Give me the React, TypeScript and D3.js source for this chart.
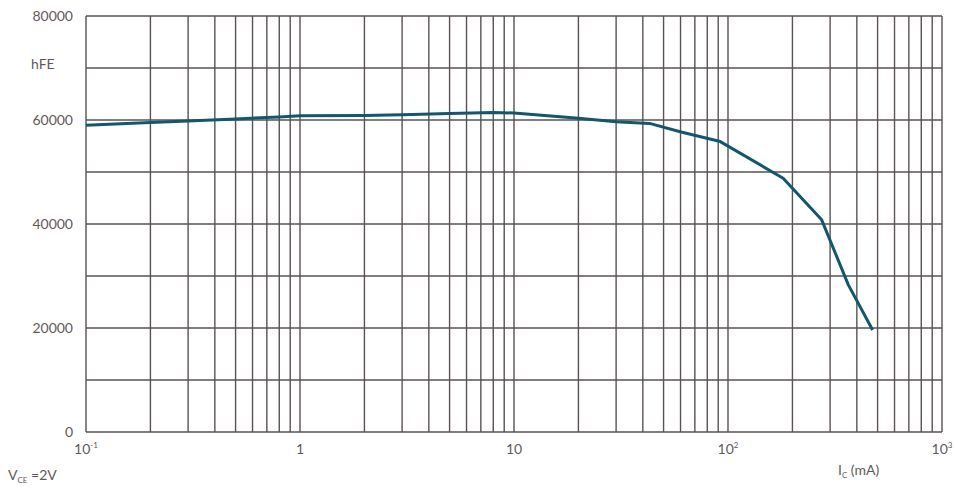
import { useEffect, useRef } from "react";
import * as d3 from "d3";

// hFE vs Ic, VCE = 2V. Log x (mA), linear y.
const W = 955;
const H = 487;
const MARGIN = { top: 16, right: 13, bottom: 55, left: 86 };

const icValues = [0.1, 0.2, 0.3, 0.5, 0.8, 1, 2, 3, 5, 8, 10, 20, 30, 43, 61, 92, 181, 274, 365, 474];
const hfeValues = [59000, 59500, 59800, 60200, 60600, 60800, 60850, 61000, 61250, 61450, 61350, 60350, 59650, 59350, 57650, 55850, 48800, 40800, 28300, 19600];

const yTicks = [0, 20000, 40000, 60000, 80000];
const xDecades = [0.1, 1, 10, 100, 1000];
const xTickLabels = [
  { base: "10", sup: "-1" },
  { base: "1", sup: "" },
  { base: "10", sup: "" },
  { base: "10", sup: "2" },
  { base: "10", sup: "3" },
];

const TEXT = "#5f5a5a";
const GRID = "#5a5252";
const CURVE = "#0f5870";
const FONT = "Lato, 'Open Sans', sans-serif";

export default function App() {
  const svgRef = useRef<SVGSVGElement>(null);

  useEffect(() => {
    const svg = d3.select(svgRef.current);
    svg.selectAll("*").remove();

    const innerW = W - MARGIN.left - MARGIN.right;
    const innerH = H - MARGIN.top - MARGIN.bottom;

    const x = d3.scaleLog().domain([0.1, 1000]).range([0, innerW]);
    const y = d3.scaleLinear().domain([0, 80000]).range([innerH, 0]);

    const g = svg
      .append("g")
      .attr("transform", `translate(${MARGIN.left},${MARGIN.top})`);

    // Rejilla vertical: 1..9 por década.
    const vLines: number[] = [];
    for (const d of xDecades.slice(0, -1)) {
      for (let k = 1; k < 10; k++) vLines.push(d * k);
    }
    vLines.push(1000);
    g.append("g")
      .selectAll("line")
      .data(vLines)
      .join("line")
      .attr("x1", (d) => x(d))
      .attr("x2", (d) => x(d))
      .attr("y1", 0)
      .attr("y2", innerH)
      .attr("stroke", GRID)
      .attr("stroke-width", 1.4);

    // Rejilla horizontal cada 10000.
    g.append("g")
      .selectAll("line")
      .data(d3.range(0, 80001, 10000))
      .join("line")
      .attr("x1", 0)
      .attr("x2", innerW)
      .attr("y1", (d) => y(d))
      .attr("y2", (d) => y(d))
      .attr("stroke", GRID)
      .attr("stroke-width", 1.4);

    // Eje Y.
    g.append("g")
      .selectAll("text")
      .data(yTicks)
      .join("text")
      .attr("x", -13)
      .attr("y", (d) => y(d))
      .attr("dy", "0.35em")
      .attr("text-anchor", "end")
      .attr("font-family", FONT)
      .attr("font-size", 14)
      .attr("fill", TEXT)
      .text((d) => String(d));

    g.append("text")
      .attr("x", -55)
      .attr("y", y(70000) - 4)
      .attr("dy", "0.35em")
      .attr("font-family", FONT)
      .attr("font-size", 14)
      .attr("fill", TEXT)
      .text("hFE");

    // Eje X.
    const xl = g
      .append("g")
      .selectAll("text")
      .data(xDecades)
      .join("text")
      .attr("x", (d) => x(d))
      .attr("y", innerH + 22)
      .attr("text-anchor", "middle")
      .attr("font-family", FONT)
      .attr("font-size", 14)
      .attr("fill", TEXT);
    xl.append("tspan").text((_, i) => xTickLabels[i].base);
    xl.append("tspan")
      .attr("font-size", 8)
      .attr("dy", -6)
      .text((_, i) => xTickLabels[i].sup);

    // Curva.
    const pts = icValues.map((v, i) => [v, hfeValues[i]] as [number, number]);
    const line = d3
      .line<[number, number]>()
      .x((d) => x(d[0]))
      .y((d) => y(d[1]));
    g.append("path")
      .datum(pts)
      .attr("fill", "none")
      .attr("stroke", CURVE)
      .attr("stroke-width", 3)
      .attr("stroke-linejoin", "round")
      .attr("d", line);

    // Notas.
    const vce = svg
      .append("text")
      .attr("x", 8)
      .attr("y", 480)
      .attr("font-family", FONT)
      .attr("font-size", 14)
      .attr("fill", TEXT);
    vce.append("tspan").text("V");
    vce.append("tspan").attr("font-size", 8).attr("dy", 3).text("CE");
    vce.append("tspan").attr("dy", -3).text(" =2V");

    const ic = svg
      .append("text")
      .attr("x", 838)
      .attr("y", 475)
      .attr("font-family", FONT)
      .attr("font-size", 14)
      .attr("fill", TEXT);
    ic.append("tspan").text("I");
    ic.append("tspan").attr("font-size", 8).attr("dy", 3).text("C");
    ic.append("tspan").attr("dy", -3).text(" (mA)");
  }, []);

  return (
    <svg
      ref={svgRef}
      width={W}
      height={H}
      style={{ position: "absolute", left: 0, top: 0, background: "#fff" }}
    />
  );
}
